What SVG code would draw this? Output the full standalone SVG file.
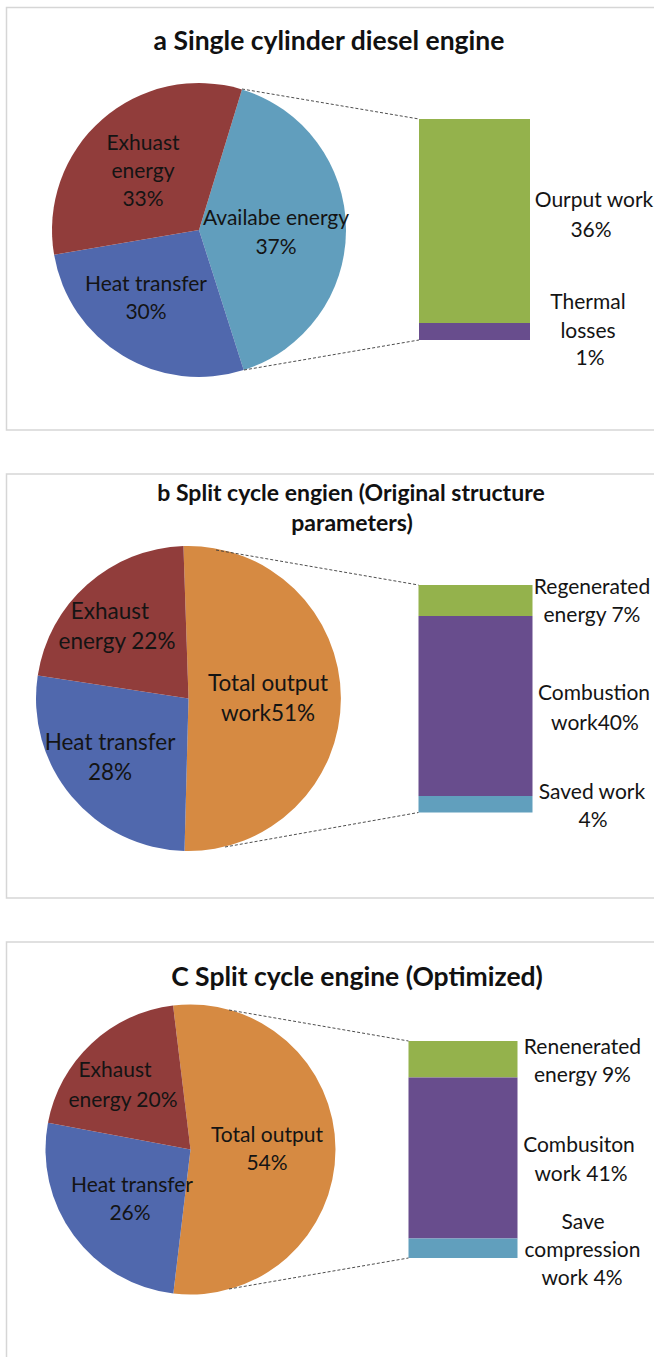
<svg xmlns="http://www.w3.org/2000/svg" width="654" height="1357" viewBox="0 0 654 1357">
  <style>
    .frame { fill: #ffffff; stroke: #d6d6d6; stroke-width: 1.5; }
    .title { font-family: Lato, "Open Sans", sans-serif; font-weight: bold; font-size: 26.5px; fill: #111; text-anchor: middle; }
    .title-b { font-size: 23px; }
    .lbl { font-family: Lato, "Open Sans", sans-serif; font-size: 21px; fill: #141414; text-anchor: middle; }
    .lbl-b { font-size: 22.5px; }
    .red { fill: #913d3b; }
    .navy { fill: #5068ad; }
    .sky { fill: #619ebd; }
    .orange { fill: #d68a42; }
    .green { fill: #94b24c; }
    .purple { fill: #684d8d; }
    .cyan { fill: #619fbd; }
    .lead { stroke: #3a3a3a; stroke-width: 0.9; stroke-dasharray: 3 2; fill: none; }
  </style>

  <!-- chart frames -->
  <rect class="frame" x="6.5" y="7.5" width="660" height="422.5"/>
  <rect class="frame" x="6.5" y="474" width="660" height="424"/>
  <rect class="frame" x="6.5" y="942" width="660" height="440"/>

  <!-- (a) single cylinder diesel engine -->
  <g id="chart-a">
    <text class="title" x="329" y="50">a Single cylinder diesel engine</text>
    <g id="a-pie">
      <path class="sky" d="M199,230 L241.98,89.42 A147,147 0 0 1 243.69,370.05 Z"/>
      <path class="navy" d="M199,230 L243.69,370.05 A147,147 0 0 1 54.10,254.77 Z"/>
      <path class="red" d="M199,230 L54.10,254.77 A147,147 0 0 1 241.98,89.42 Z"/>
    </g>
    <g id="a-bar">
      <rect class="green" x="419" y="119" width="111" height="204"/>
      <rect class="purple" x="419" y="323" width="111" height="17"/>
    </g>
    <g id="a-labels">
      <text class="lbl" x="143" y="150">Exhuast</text>
      <text class="lbl" x="143" y="178">energy</text>
      <text class="lbl" x="143" y="206">33%</text>
      <text class="lbl" x="276" y="225">Availabe energy</text>
      <text class="lbl" x="276" y="254">37%</text>
      <text class="lbl" x="146" y="291">Heat transfer</text>
      <text class="lbl" x="146" y="319">30%</text>
      <text class="lbl" x="594" y="207">Ourput work</text>
      <text class="lbl" x="591" y="237">36%</text>
      <text class="lbl" x="588" y="309">Thermal</text>
      <text class="lbl" x="588" y="338">losses</text>
      <text class="lbl" x="590" y="365">1%</text>
    </g>
  </g>

  <!-- (b) split cycle engine, original structure parameters -->
  <g id="chart-b">
    <text class="title title-b" x="351" y="501">b Split cycle engien (Original structure</text>
    <text class="title title-b" x="352" y="531">parameters)</text>
    <g id="b-pie">
      <path class="orange" d="M188.5,698.5 L183.44,546.08 A152.5,152.5 0 1 1 184.51,850.95 Z"/>
      <path class="navy" d="M188.5,698.5 L184.51,850.95 A152.5,152.5 0 0 1 37.76,675.43 Z"/>
      <path class="red" d="M188.5,698.5 L37.76,675.43 A152.5,152.5 0 0 1 183.44,546.08 Z"/>
    </g>
    <g id="b-bar">
      <rect class="green" x="418.5" y="585" width="114" height="31"/>
      <rect class="purple" x="418.5" y="616" width="114" height="180"/>
      <rect class="cyan" x="418.5" y="796" width="114" height="16.5"/>
    </g>
    <g id="b-labels">
      <text class="lbl lbl-b" x="110" y="619">Exhaust</text>
      <text class="lbl lbl-b" x="117" y="649">energy 22%</text>
      <text class="lbl lbl-b" x="268" y="691">Total output</text>
      <text class="lbl lbl-b" x="268" y="721">work51%</text>
      <text class="lbl lbl-b" x="110" y="750">Heat transfer</text>
      <text class="lbl lbl-b" x="110" y="780">28%</text>
      <text class="lbl" x="592" y="594">Regenerated</text>
      <text class="lbl" x="592" y="622">energy 7%</text>
      <text class="lbl" x="594" y="700">Combustion</text>
      <text class="lbl" x="595" y="730">work40%</text>
      <text class="lbl" x="592" y="799">Saved work</text>
      <text class="lbl" x="593" y="827">4%</text>
    </g>
  </g>

  <!-- (c) split cycle engine, optimized -->
  <g id="chart-c">
    <text class="title" x="357" y="986">C Split cycle engine (Optimized)</text>
    <g id="c-pie">
      <path class="orange" d="M190.5,1149.5 L173.08,1005.55 A145,145 0 1 1 173.33,1293.48 Z"/>
      <path class="navy" d="M190.5,1149.5 L173.33,1293.48 A145,145 0 0 1 47.97,1122.83 Z"/>
      <path class="red" d="M190.5,1149.5 L47.97,1122.83 A145,145 0 0 1 173.08,1005.55 Z"/>
    </g>
    <g id="c-bar">
      <rect class="green" x="408.5" y="1041" width="109" height="36.5"/>
      <rect class="purple" x="408.5" y="1077.5" width="109" height="161"/>
      <rect class="cyan" x="408.5" y="1238.5" width="109" height="19.5"/>
    </g>
    <g id="c-labels">
      <text class="lbl" x="115" y="1077">Exhaust</text>
      <text class="lbl" x="123" y="1107">energy 20%</text>
      <text class="lbl" x="267" y="1142">Total output</text>
      <text class="lbl" x="267" y="1170">54%</text>
      <text class="lbl" x="132" y="1192">Heat transfer</text>
      <text class="lbl" x="130" y="1220">26%</text>
      <text class="lbl" x="582.5" y="1054">Renenerated</text>
      <text class="lbl" x="582.5" y="1082">energy 9%</text>
      <text class="lbl" x="579" y="1152">Combusiton</text>
      <text class="lbl" x="581" y="1181">work 41%</text>
      <text class="lbl" x="583" y="1229">Save</text>
      <text class="lbl" x="582.5" y="1257">compression</text>
      <text class="lbl" x="582" y="1285">work 4%</text>
    </g>
  </g>

  <!-- dashed leader lines from pie to breakdown bar -->
  <g id="connectors">
    <line class="lead" x1="242" y1="89" x2="419" y2="119"/>
    <line class="lead" x1="244" y1="370" x2="419" y2="340"/>
    <line class="lead" x1="216" y1="550" x2="418.5" y2="585"/>
    <line class="lead" x1="225" y1="847" x2="418.5" y2="812.5"/>
    <line class="lead" x1="229" y1="1010" x2="408.5" y2="1041"/>
    <line class="lead" x1="229" y1="1289" x2="408.5" y2="1258"/>
  </g>
</svg>
